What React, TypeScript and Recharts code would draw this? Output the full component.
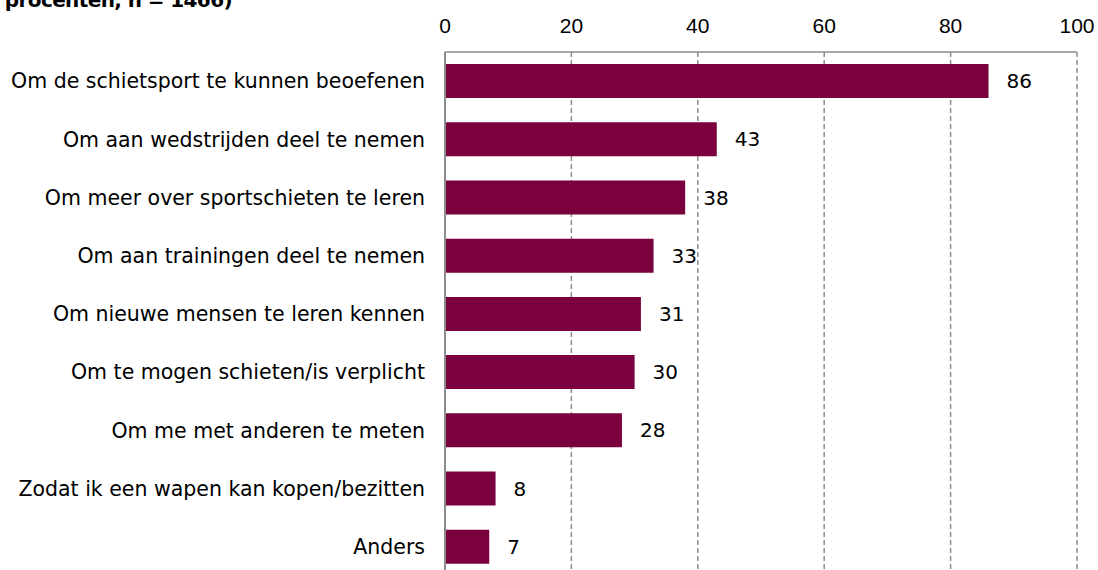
import { BarChart, Bar, XAxis, YAxis, CartesianGrid, LabelList } from 'recharts';

const reasons = [
  'Om de schietsport te kunnen beoefenen',
  'Om aan wedstrijden deel te nemen',
  'Om meer over sportschieten te leren',
  'Om aan trainingen deel te nemen',
  'Om nieuwe mensen te leren kennen',
  'Om te mogen schieten/is verplicht',
  'Om me met anderen te meten',
  'Zodat ik een wapen kan kopen/bezitten',
  'Anders',
];
const percentages = [86, 43, 38, 33, 31, 30, 28, 8, 7];
const xTicks = [0, 20, 40, 60, 80, 100];

const data = reasons.map((reason, i) => ({ reason, pct: percentages[i] }));

const BAR_COLOR = '#7b003e';
const GRID_COLOR = '#8c8c8c';

export default function App() {
  return (
    <div
      style={{
        position: 'relative',
        width: 1098,
        height: 570,
        overflow: 'hidden',
        background: '#fff',
      }}
    >
      <style>{'html, body { margin: 0; padding: 0; overflow: hidden; }'}</style>
      <div
        style={{
          position: 'absolute',
          right: 1098 - 232,
          top: -12,
          whiteSpace: 'nowrap',
          fontFamily: 'DejaVu Sans',
          fontWeight: 'bold',
          fontSize: 20,
          letterSpacing: -0.6,
          color: '#000',
        }}
      >
        Redenen om lid te zijn (in procenten, n = 1466)
      </div>
      <BarChart
        width={1098}
        height={580}
        data={data}
        layout="vertical"
        margin={{ top: 0, right: 21, bottom: 4, left: 0 }}
        barSize={34}
      >
        <CartesianGrid
          horizontal={false}
          stroke={GRID_COLOR}
          strokeDasharray="5 3"
          strokeWidth={1.5}
        />
        <XAxis
          type="number"
          orientation="top"
          domain={[0, 100]}
          ticks={xTicks}
          height={52}
          axisLine={{ stroke: GRID_COLOR, strokeWidth: 1.5 }}
          tickLine={false}
          tickMargin={13}
          tick={{ fill: '#000', fontSize: 21, fontFamily: 'Liberation Sans, Arial, sans-serif' }}
        />
        <YAxis
          type="category"
          dataKey="reason"
          width={445}
          axisLine={{ stroke: GRID_COLOR, strokeWidth: 2 }}
          tickLine={false}
          tickMargin={14}
          interval={0}
          tick={{ fill: '#000', fontSize: 20.5, fontFamily: 'DejaVu Sans' }}
        />
        <Bar dataKey="pct" fill={BAR_COLOR} isAnimationActive={false}>
          <LabelList
            dataKey="pct"
            position="right"
            offset={18}
            fill="#000"
            fontSize={20}
            fontFamily="DejaVu Sans"
          />
        </Bar>
      </BarChart>
    </div>
  );
}
